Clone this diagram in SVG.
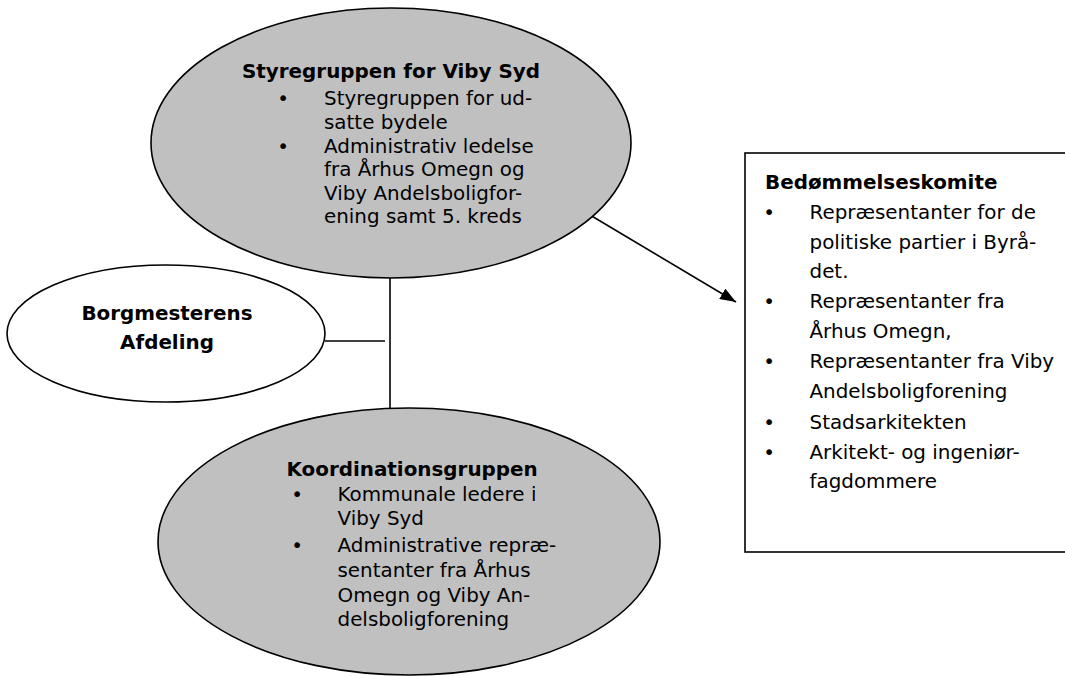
<svg xmlns="http://www.w3.org/2000/svg" width="1065" height="676" viewBox="0 0 1065 676">
<defs>
<style>
.t{font-family:"DejaVu Sans","Verdana",sans-serif;font-size:19.9px;fill:#000}
.b{font-weight:bold}
.m{text-anchor:middle}
.shape{stroke:#000;stroke-width:1.6}
.g{fill:#c0c0c0}
.w{fill:#fff}
.ln{stroke:#000;stroke-width:1.6;fill:none}
</style>
<marker id="ah" viewBox="0 0 16 12" refX="16" refY="6" markerWidth="16" markerHeight="12" markerUnits="userSpaceOnUse" orient="auto">
<path d="M0,0 L16,6 L0,12 Z" fill="#000"/>
</marker>
</defs>
<rect width="1065" height="676" fill="#fff"/>

<g id="connectors">
<line class="ln" x1="390" y1="278" x2="390" y2="415"/>
<line class="ln" x1="325" y1="341" x2="385" y2="341"/>
<line class="ln" x1="585" y1="212" x2="736" y2="302" marker-end="url(#ah)"/>
</g>

<g id="styregruppen">
<ellipse class="shape g" cx="391" cy="143" rx="240" ry="135"/>
<text class="t b" x="242" y="77.5">Styregruppen for Viby Syd</text>
<text class="t m" x="283" y="105">•</text>
<text class="t" x="324" y="105">Styregruppen for ud-</text>
<text class="t" x="324" y="128.5">satte bydele</text>
<text class="t m" x="283" y="152.5">•</text>
<text class="t" x="324" y="152.5">Administrativ ledelse</text>
<text class="t" x="324" y="176">fra Århus Omegn og</text>
<text class="t" x="324" y="199.5">Viby Andelsboligfor-</text>
<text class="t" x="324" y="223">ening samt 5. kreds</text>
</g>

<g id="borgmesterens">
<ellipse class="shape w" cx="166" cy="333.5" rx="159" ry="68.5"/>
<text class="t b m" x="167" y="319.5">Borgmesterens</text>
<text class="t b m" x="167" y="348.5">Afdeling</text>
</g>

<g id="koordinationsgruppen">
<ellipse class="shape g" cx="409" cy="541.5" rx="251" ry="133.5"/>
<text class="t b" x="286.5" y="476">Koordinationsgruppen</text>
<text class="t m" x="297" y="501">•</text>
<text class="t" x="337.5" y="501">Kommunale ledere i</text>
<text class="t" x="337.5" y="525">Viby Syd</text>
<text class="t m" x="297" y="552">•</text>
<text class="t" x="337.5" y="552">Administrative repræ-</text>
<text class="t" x="337.5" y="576.5">sentanter fra Århus</text>
<text class="t" x="337.5" y="601.5">Omegn og Viby An-</text>
<text class="t" x="337.5" y="625.5">delsboligforening</text>
</g>

<g id="bedommelseskomite">
<rect class="shape w" x="745" y="153" width="330" height="399"/>
<text class="t b" x="765" y="188.5">Bedømmelseskomite</text>
<text class="t m" x="769" y="219">•</text>
<text class="t" x="809.5" y="219">Repræsentanter for de</text>
<text class="t" x="809.5" y="248.5">politiske partier i Byrå-</text>
<text class="t" x="809.5" y="278">det.</text>
<text class="t m" x="769" y="308">•</text>
<text class="t" x="809.5" y="308">Repræsentanter fra</text>
<text class="t" x="809.5" y="337.5">Århus Omegn,</text>
<text class="t m" x="769" y="367.5">•</text>
<text class="t" x="809.5" y="367.5">Repræsentanter fra Viby</text>
<text class="t" x="809.5" y="398">Andelsboligforening</text>
<text class="t m" x="769" y="428.5">•</text>
<text class="t" x="809.5" y="428.5">Stadsarkitekten</text>
<text class="t m" x="769" y="458.5">•</text>
<text class="t" x="809.5" y="458.5">Arkitekt- og ingeniør-</text>
<text class="t" x="809.5" y="488">fagdommere</text>
</g>
</svg>
